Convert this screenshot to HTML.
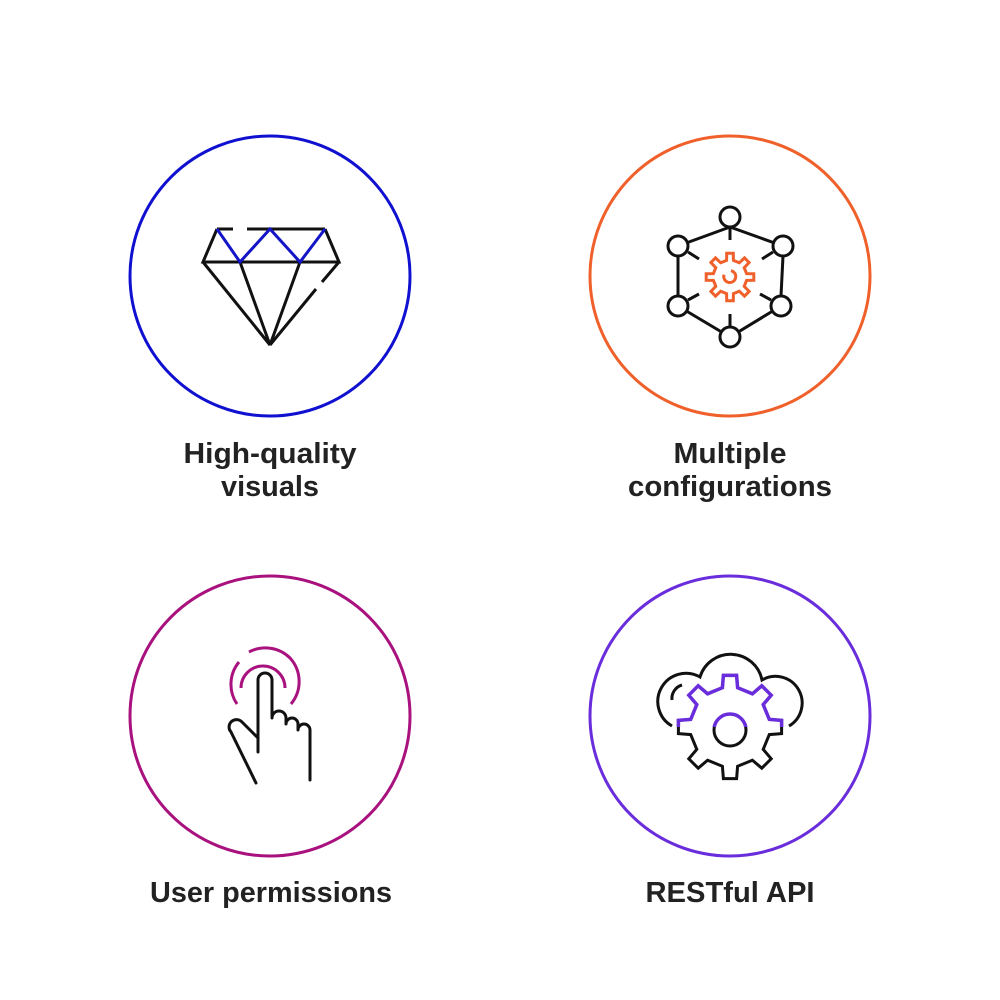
<!DOCTYPE html>
<html><head><meta charset="utf-8"><style>
html,body{margin:0;padding:0;background:#fff}
svg{display:block}
text{font-family:"Liberation Sans",sans-serif;font-weight:bold;font-size:29px;fill:#222;text-anchor:middle}
</style></head><body>
<svg id="s" width="1000" height="1000" viewBox="0 0 1000 1000" fill="none" stroke-width="3">
<rect width="1000" height="1000" fill="#fff" stroke="none"/>
<circle cx="270" cy="276" r="140" stroke="#1010d0"/>
<circle cx="730" cy="276" r="140" stroke="#f0602a"/>
<circle cx="270" cy="716" r="140" stroke="#a8117e"/>
<circle cx="730" cy="716" r="140" stroke="#6a2ddc"/>

<g stroke="#111" stroke-width="3">
<path d="M217 229 L233 229 M247 229 L325 229 M217 229 L203 262 L339 262 L325 229 M203 262 L270 345 L240 262 M300 262 L270 345 M339 262 L322 282 M316 289 L270 345"/>
<path d="M217 229 L240 262 L270 229 L300 262 L325 229" stroke="#1515c8"/>
</g>

<g stroke="#111" stroke-width="3">
<path d="M730 227 L678 246 M730 227 L783 246 M678 256 L678 296 M783 256 L781 296 M678 306 L730 337 M781 306 L730 337"/>
<path d="M730 228 L730 240 M688 252 L699 259 M773 252 L762 259 M688 300 L699 294 M771 300 L760 294 M730 326 L730 314"/>
<circle cx="730" cy="217" r="10" fill="#fff"/>
<circle cx="678" cy="246" r="10" fill="#fff"/>
<circle cx="783" cy="246" r="10" fill="#fff"/>
<circle cx="678" cy="306" r="10" fill="#fff"/>
<circle cx="781" cy="306" r="10" fill="#fff"/>
<circle cx="730" cy="337" r="10" fill="#fff"/>
</g>
<path id="g1" stroke="#f0602a" stroke-width="3"/>
<path d="M726 272 A6 6 0 1 0 734 272" stroke="#f0602a" stroke-width="3" transform="rotate(-30 730 277)"/>

<g stroke="#111" stroke-width="3" stroke-linecap="round" stroke-linejoin="round">
<path d="M258 752 L258 680 A7 7 0 0 1 272 680 L272 716 M272 718 A7 7 0 0 1 286 718 L286 724 A6 6 0 0 1 298 724 L298 730 A6 6 0 0 1 310 730 L310 780 M258 738 L242 722 A7 7 0 0 0 231 732 L256 783"/>
</g>
<g stroke="#a8117e" stroke-width="3" fill="none">
<path d="M241 688 A22 22 0 1 1 285 688"/>
<path d="M237 704 A35 35 0 0 1 239 662 M249 652 A35 35 0 0 1 290 658 A35 35 0 0 1 291 704"/>
</g>

<path d="M672 726 A26 26 0 0 1 700 677 A32 32 0 0 1 762 680 A26 26 0 0 1 789 726" stroke="#111" stroke-width="3"/>
<path d="M672 700 A14 14 0 0 1 682 685" stroke="#111" stroke-width="3"/>
<path id="g2" stroke="#111" stroke-width="3"/>
<circle cx="730" cy="730" r="16" stroke="#111" stroke-width="3"/>
<g id="pur"></g>

<text x="270" y="463" textLength="173" lengthAdjust="spacingAndGlyphs">High-quality</text>
<text x="270" y="496" textLength="98" lengthAdjust="spacingAndGlyphs">visuals</text>
<text x="730" y="463" textLength="113" lengthAdjust="spacingAndGlyphs">Multiple</text>
<text x="730" y="496" textLength="204" lengthAdjust="spacingAndGlyphs">configurations</text>
<text x="271" y="902" textLength="242" lengthAdjust="spacingAndGlyphs">User permissions</text>
<text x="730" y="902" textLength="169" lengthAdjust="spacingAndGlyphs">RESTful API</text>
</svg>
<script>
function gear(cx,cy,ro,ri,n,tw){
 var d="",step=2*Math.PI/n;
 for(var i=0;i<n;i++){
  var a=i*step-Math.PI/2;
  var p=[[ri,a-tw*1.2],[ro,a-tw*0.8],[ro,a+tw*0.8],[ri,a+tw*1.2]];
  p.forEach(function(q,j){
   var x=(cx+q[0]*Math.cos(q[1])).toFixed(1),y=(cy+q[0]*Math.sin(q[1])).toFixed(1);
   d+=(i==0&&j==0?"M":"L")+x+" "+y+" ";
  });
 }
 return d+"Z";
}
document.getElementById("g1").setAttribute("d",gear(730,277,24,17,8,0.17));
document.getElementById("g2").setAttribute("d",gear(730,727,52,40,8,0.16));
var ns="http://www.w3.org/2000/svg",s=document.getElementById("s");
var cp=document.createElementNS(ns,"clipPath");cp.id="up";
var r=document.createElementNS(ns,"rect");r.setAttribute("x",660);r.setAttribute("y",660);r.setAttribute("width",140);r.setAttribute("height",67);
cp.appendChild(r);s.appendChild(cp);
var g=document.getElementById("pur");g.setAttribute("clip-path","url(#up)");
var p=document.createElementNS(ns,"path");p.setAttribute("d",gear(730,727,52,40,8,0.16));p.setAttribute("stroke","#6a2ddc");p.setAttribute("stroke-width","3.5");p.setAttribute("fill","none");g.appendChild(p);
var c=document.createElementNS(ns,"circle");c.setAttribute("cx",730);c.setAttribute("cy",730);c.setAttribute("r",16);c.setAttribute("stroke","#6a2ddc");c.setAttribute("stroke-width","3.5");c.setAttribute("fill","none");g.appendChild(c);
</script>
</body></html>
